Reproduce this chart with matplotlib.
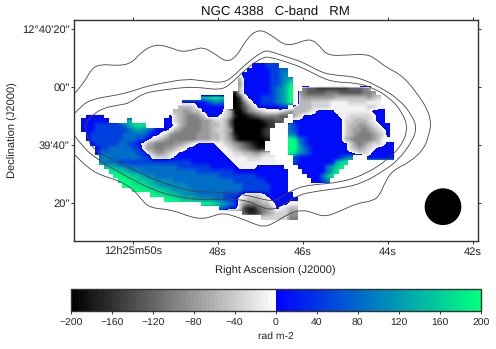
import numpy as np
import matplotlib
matplotlib.use('Agg')
import matplotlib.pyplot as plt
from matplotlib.colors import LinearSegmentedColormap, Normalize
from matplotlib.cm import ScalarMappable
from matplotlib.patches import Ellipse, PathPatch
from matplotlib.path import Path

plt.rcParams['font.family'] = ['Liberation Sans', 'DejaVu Sans']
plt.rcParams['text.hinting'] = 'no_hinting'

TITLE = 'NGC 4388   C-band   RM'
X_TICKS = [50, 48, 46, 44, 42]
X_LABELS = ['12h25m50s', '48s', '46s', '44s', '42s']
Y_TICKS = [80, 60, 40, 20]
Y_LABELS = ['12°40\'20"', '00"', '39\'40"', '20"']
CBAR_TICKS = [-200, -160, -120, -80, -40, 0, 40, 80, 120, 160, 200]

# RM, one letter/digit per map cell
RM_LEVELS = {'A': -198, 'B': -175, 'C': -150, 'D': -125, 'E': -100, 'F': -78,
             'G': -55, 'H': -33, 'I': -12,
             '1': 10, '2': 50, '3': 85, '4': 110, '5': 130, '6': 148, '7': 165,
             '8': 182, '9': 199}
RA_FIRST = 51.22      # left edge of the first column, seconds of RA
RA_STEP = 0.1082
DEC_FIRST = 68.03     # top edge of the first row, arcsec above 12d39m
DEC_STEP = 1.586
N_COLS = 69
# each row: (first column, cells)
RM_ROWS = [
    [(37, "111222")],
    [(36, "111112233")],
    [(35, "1111112234")],
    [(34, "G11111122345")],
    [(34, "F11111122358")],
    [(34, "G11111123469"), (48, "EDDCCCCCCCDDDEF")],
    [(33, "BG11111123469"), (47, "FEDDDDEEEDDDDDEEF")],
    [(26, "67887"), (33, "ACH1112223469"), (47, "GFFFFFFFGGGGGGGFGH")],
    [(22, "111112343"), (33, "ABEH112223469"), (47, "GGGHHHHIIIIHHHHIII")],
    [(21, "GGGH111111"), (33, "ABDFH1111122"), (46, "GGGGHHHHIIIIIIIIHHII")],
    [(20, "GGFFGG11111HG"), (33, "AACEFGHIIIHGF"), (46, "GGGHI1111IIIIIIII111")],
    [(1, "1111"), (19, "1HGFEEFG111IHFBAABCDEEEEDD"), (46, "GH11111111IIHHHHHI11")],
    [(0, "111111"), (10, "6"), (18, "11"), (20, "HGFEEEFFGHHGD"), (33, "AAAAAABCCDD"),
     (46, "11111111111HHGGGHI11")],
    [(0, "11122222235788"), (18, "11"), (20, "IGFEEEFFGGHGD"), (33, "AAAAAAABC"),
     (45, "321111111111HGGFFGHI11")],
    [(0, "111222222234543211"), (18, "1IGFEEEEFFGHHGF"), (33, "AAAAAABC"),
     (45, "321111111111HGFFEFGHI1")],
    [(1, "1222222233333211"), (17, "IHFEEEEEFFFGGHGE"), (33, "BAAAAABC"),
     (45, "431111111111HGFEEEFGH1")],
    [(1, "12222222333221"), (15, "IHGFEEEEEEFFFGGHGF"), (33, "CAAAAAAB"),
     (45, "983211111111GFEEEEFGI")],
    [(2, "12222233221"), (13, "IGFEEEEFFGHI"), (25, "1111"), (29, "IIHGFEDCBAA"),
     (45, "9942111111111HFEFGHHI11")],
    [(3, "1223333322"), (13, "IFFEEFFGHI"), (23, "1111111"), (30, "IIHGFEDCBB"),
     (45, "9953211111111HGFGHI1111")],
    [(3, "13333333322"), (14, "IGFFGHI"), (21, "1111111111"), (31, "IIHHGGFFGH"),
     (45, "97432111111111IHHI11111")],
    [(4, "34333333322"), (15, "IHHHI"), (20, "111111111111"), (32, "IIIIHHHIII"),
     (46, "2111111111234"), (62, "111111")],
    [(4, "43332222222222222222111111111"), (33, "IIIIIIIIII"), (46, "211111111578")],
    [(5, "66544333333333332222222111111"), (34, "IIII"), (38, "111111"), (47, "1111113578")],
    [(6, "887654433333333333322222222111111111111"), (48, "11111358")],
    [(7, "99887654433333333333333222222221111111"), (49, "111368")],
    [(8, "9988776544443333333333333222222211111"), (50, "1124")],
    [(9, "998887654444443333333333332222221111")],
    [(11, "9988877654444333333333332222221111")],
    [(15, "98877654443333332221"), (35, "IHHHI"), (40, "111111")],
    [(18, "9887665544433221"), (34, "IHGGGHI"), (41, "111111")],
    [(26, "99875432"), (34, "HFEEFGGI"), (42, "111II")],
    [(30, "3211"), (34, "HCBBDEFG1IHGG")],
    [(35, "DBBCEFGHHHFF")],
    [(39, "HHHHHHEE")],
]

# contours, RA seconds and arcsec above 12d39m
OUTER_RA = [51.41, 51.18, 50.97, 50.74, 50.35, 50.03, 49.80, 49.48, 49.17, 48.85, 48.54, 48.35,
            48.11, 47.80, 47.56, 47.32, 47.05, 46.78, 46.47, 46.24, 45.95, 45.76, 45.60, 45.41,
            44.96, 44.49, 44.26, 44.02, 43.65, 43.32, 43.06, 42.99, 43.01, 43.13, 43.48, 43.88,
            44.07, 44.19, 44.35, 44.71, 45.13, 45.48, 45.76, 46.00, 46.31, 46.71, 46.94, 47.20,
            47.55, 47.88, 48.12, 48.35, 48.66, 49.06, 49.60, 49.79, 50.02, 50.38, 50.78, 51.06, 51.41]
OUTER_DEC = [57.3, 60.8, 66.6, 68.0, 67.4, 68.3, 72.3, 74.8, 74.0, 72.1, 73.1, 73.8,
             71.9, 68.6, 70.6, 76.9, 80.0, 78.4, 74.8, 74.6, 76.3, 76.3, 74.0, 70.9,
             71.1, 71.5, 69.4, 66.7, 63.9, 58.0, 52.2, 47.7, 45.3, 39.1, 34.2, 31.5,
             27.3, 22.9, 20.8, 20.1, 17.3, 15.3, 16.7, 17.7, 16.7, 12.9, 11.8, 13.2,
             15.3, 16.7, 15.6, 14.6, 15.3, 17.7, 18.4, 21.1, 25.3, 28.0, 29.8, 32.2, 37.3]
MIDDLE_RA = [51.41, 51.20, 50.94, 50.38, 50.07, 49.67, 49.29, 48.73, 48.35, 47.88, 47.65, 47.32,
             46.94, 46.78, 46.38, 46.00, 45.60, 45.29, 44.73, 44.19, 43.72, 43.44, 43.32, 43.44,
             43.76, 44.07, 44.59, 45.06, 45.67, 46.12, 46.47, 46.71, 47.01, 47.32, 47.88, 48.42,
             49.06, 49.53, 50.14, 50.94, 51.25, 51.41]
MIDDLE_DEC = [50.4, 53.9, 56.0, 57.3, 58.4, 60.4, 61.5, 62.9, 62.2, 61.5, 63.6, 68.4,
              72.5, 72.5, 70.4, 68.7, 65.3, 64.2, 63.6, 60.1, 55.6, 50.4, 46.0, 41.1,
              34.9, 31.5, 27.0, 25.3, 24.2, 22.9, 19.4, 17.7, 18.7, 21.1, 21.5, 21.1,
              22.5, 24.6, 29.1, 36.0, 40.8, 44.2]
INNER_RA = [51.13, 51.01, 50.71, 50.31, 50.07, 49.76, 49.29, 48.71, 48.35, 47.95, 47.72, 47.32,
            46.94, 46.78, 46.38, 46.00, 45.60, 45.29, 44.73, 44.35, 43.95, 43.67, 43.53, 43.67,
            44.02, 44.49, 45.06, 45.84, 46.14, 46.47, 46.71, 47.32, 47.95, 48.59, 49.36, 50.14,
            50.94, 51.08, 51.13]
INNER_DEC = [47.0, 49.8, 52.9, 53.9, 54.6, 58.0, 59.1, 60.1, 59.8, 59.1, 60.8, 66.7,
             70.4, 70.4, 68.7, 66.7, 63.6, 61.8, 61.5, 59.8, 56.3, 51.5, 46.0, 40.1,
             34.9, 30.4, 27.3, 26.3, 25.3, 22.5, 20.4, 22.9, 23.9, 23.9, 27.3, 32.5,
             38.4, 42.9, 47.0]

BEAM_RA = 42.706
BEAM_DEC = 18.83
BEAM_W = 0.83
BEAM_H = 12.2


def rows_to_array():
    # blanks are kept apart so the smooth image can run under the blocky mask
    rm = np.full((len(RM_ROWS), N_COLS), np.nan)
    for j, segs in enumerate(RM_ROWS):
        for start, cells in segs:
            for i, c in enumerate(cells):
                rm[j, start + i] = RM_LEVELS[c]
    return rm


def fill_blanks(rm):
    out = rm.copy()
    for j in range(rm.shape[0]):
        good = np.where(~np.isnan(rm[j]))[0]
        for i in np.where(np.isnan(rm[j]))[0]:
            out[j, i] = rm[j, good[np.argmin(np.abs(good - i))]]
    return out


def smooth_line(ra, dec):
    # quadratic pieces through the midpoints so the contour has no corners
    pts = np.column_stack([ra, dec])
    mids = (pts[:-1] + pts[1:]) / 2
    verts = [pts[0]]
    codes = [Path.MOVETO]
    for i in range(1, len(pts) - 1):
        verts += [pts[i], mids[i]]
        codes += [Path.CURVE3, Path.CURVE3]
    verts.append(pts[-1])
    codes.append(Path.LINETO)
    return Path(verts, codes)


W, H = 496, 349
fig = plt.figure(figsize=(W / 100, H / 100), dpi=100)
ax = fig.add_axes([73.5 / W, 1 - 241 / H, 404.5 / W, 221 / H])
cax = fig.add_axes([70.7 / W, 1 - 310.7 / H, 410 / W, 21.4 / H])

cmap = LinearSegmentedColormap.from_list('rm', [(0, '#000000'), (0.4995, '#ffffff'), (0.5, '#0000ff'),
                                                (1, '#00ff80')], N=100)
norm = Normalize(-200, 200)

rm = rows_to_array()
extent = [RA_FIRST, RA_FIRST - RA_STEP * N_COLS,
          DEC_FIRST - DEC_STEP * len(RM_ROWS), DEC_FIRST]
ax.imshow(fill_blanks(rm), cmap=cmap, norm=norm, extent=extent, aspect='auto',
          interpolation='bilinear', origin='upper', zorder=1)
mask = np.zeros(rm.shape + (4,))
mask[..., :3] = 1
mask[..., 3] = np.isnan(rm)
ax.imshow(mask, extent=extent, aspect='auto', interpolation='nearest', origin='upper', zorder=2)

for ra, dec in [(OUTER_RA, OUTER_DEC), (MIDDLE_RA, MIDDLE_DEC), (INNER_RA, INNER_DEC)]:
    ax.add_patch(PathPatch(smooth_line(ra, dec), fill=False, ec='#444444', lw=0.6, zorder=3))

ax.add_patch(Ellipse((BEAM_RA, BEAM_DEC), BEAM_W, BEAM_H, color='black', zorder=4))

ax.set_xlim(51.4, 41.882)
ax.set_ylim(7.0, 83.2)
ax.set_xticks(X_TICKS, X_LABELS)
ax.set_yticks(Y_TICKS, Y_LABELS)
ax.tick_params(top=True, right=True, direction='out', length=2.2, width=0.7,
               labelsize=8, pad=2, color='#333333', labelcolor='#222222')
ax.tick_params(axis='y', pad=0.5)
for s in ax.spines.values():
    s.set_linewidth(1.0)
    s.set_color('#333333')
ax.set_xlabel('Right Ascension (J2000)', fontsize=8, color='#222222', labelpad=6)
ax.set_ylabel('Declination (J2000)', fontsize=8, color='#222222', labelpad=3)
ax.set_title(TITLE, fontsize=9.5, pad=4, color='#111111')

cb = fig.colorbar(ScalarMappable(norm=norm, cmap=cmap), cax=cax, orientation='horizontal')
cb.set_ticks(CBAR_TICKS)
cb.ax.tick_params(direction='out', length=2.5, width=0.7, labelsize=7.5, pad=3,
                  color='#333333', labelcolor='#222222')
cb.outline.set_linewidth(1.0)
cb.outline.set_edgecolor('#333333')
cb.set_label('rad m-2', fontsize=7.5, color='#222222', labelpad=3)

fig.savefig('out.png', dpi=100)
